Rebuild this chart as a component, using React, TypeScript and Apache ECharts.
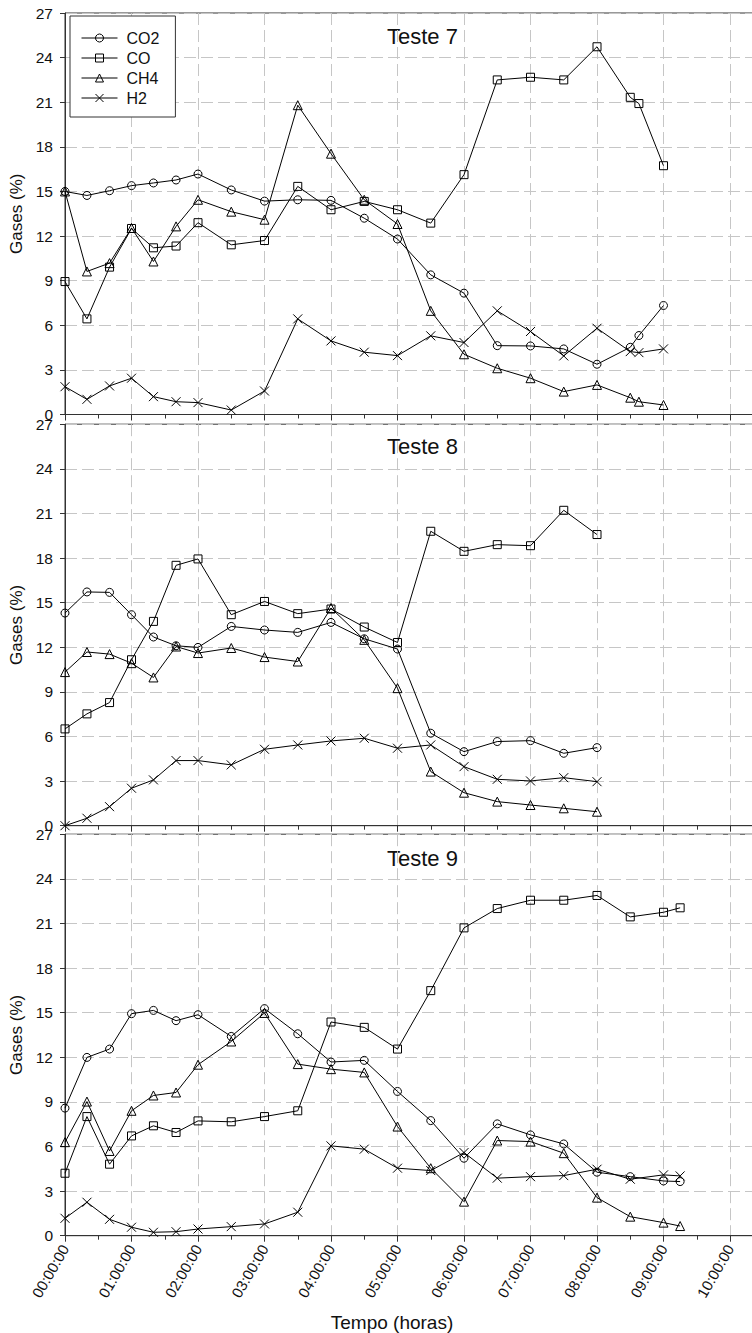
import React, { useEffect, useRef } from "react";
import * as echarts from "echarts";

// ---------- data (hours since start, gas %) ----------
const gasNames = ["CO2", "CO", "CH4", "H2"];
const panelTitles = ["Teste 7", "Teste 8", "Teste 9"];

const t7Times = [0, 0.33, 0.67, 1, 1.33, 1.67, 2, 2.5, 3, 3.5, 4, 4.5, 5, 5.5, 6, 6.5, 7, 7.5, 8, 8.5, 8.63, 9];
const t7CO2 = [15.0, 14.73, 15.05, 15.39, 15.57, 15.77, 16.17, 15.1, 14.35, 14.44, 14.4, 13.2, 11.8, 9.39, 8.16, 4.63, 4.61, 4.41, 3.38, 4.52, 5.31, 7.33];
const t7CO = [8.94, 6.43, 9.91, 12.51, 11.21, 11.33, 12.9, 11.41, 11.7, 15.34, 13.77, 14.33, 13.77, 12.87, 16.13, 22.5, 22.68, 22.5, 24.73, 21.33, 20.91, 16.73];
const t7CH4 = [15.0, 9.62, 10.18, 12.54, 10.29, 12.65, 14.44, 13.64, 13.1, 20.8, 17.54, 14.44, 12.81, 6.97, 4.05, 3.11, 2.44, 1.54, 1.99, 1.13, 0.86, 0.64];
const t7H2 = [1.87, 1.02, 1.92, 2.44, 1.2, 0.86, 0.8, 0.3, 1.58, 6.43, 4.95, 4.19, 3.96, 5.29, 4.84, 6.97, 5.58, 3.94, 5.8, 4.23, 4.16, 4.41];

const t8Times = [0, 0.33, 0.67, 1, 1.33, 1.67, 2, 2.5, 3, 3.5, 4, 4.5, 5, 5.5, 6, 6.5, 7, 7.5, 8];
const t8CO2 = [14.3, 15.72, 15.69, 14.19, 12.69, 12.1, 11.99, 13.4, 13.16, 13.0, 13.67, 12.57, 11.88, 6.22, 4.98, 5.66, 5.72, 4.87, 5.25];
const t8CO = [6.51, 7.52, 8.28, 11.16, 13.74, 17.51, 17.94, 14.19, 15.08, 14.26, 14.57, 13.36, 12.32, 19.8, 18.45, 18.9, 18.83, 21.21, 19.58];
const t8CH4 = [10.33, 11.68, 11.54, 10.93, 9.97, 12.05, 11.61, 11.95, 11.34, 11.04, 14.64, 12.5, 9.25, 3.64, 2.22, 1.62, 1.39, 1.17, 0.94];
const t8H2 = [0, 0.5, 1.28, 2.52, 3.08, 4.38, 4.38, 4.09, 5.14, 5.43, 5.7, 5.88, 5.21, 5.43, 3.97, 3.12, 3.01, 3.23, 2.96];

const t9Times = [0, 0.33, 0.67, 1, 1.33, 1.67, 2, 2.5, 3, 3.5, 4, 4.5, 5, 5.5, 6, 6.5, 7, 7.5, 8, 8.5, 9, 9.25];
const t9CO2 = [8.58, 11.99, 12.55, 14.93, 15.15, 14.46, 14.86, 13.4, 15.27, 13.58, 11.68, 11.79, 9.7, 7.74, 5.21, 7.52, 6.78, 6.17, 4.27, 3.97, 3.68, 3.64];
const t9CO = [4.2, 8.01, 4.81, 6.71, 7.39, 6.94, 7.72, 7.66, 8.01, 8.4, 14.37, 14.01, 12.55, 16.48, 20.7, 22.0, 22.56, 22.56, 22.88, 21.44, 21.75, 22.05];
const t9CH4 = [6.29, 9.02, 5.7, 8.4, 9.43, 9.63, 11.5, 13.06, 14.98, 11.54, 11.2, 10.98, 7.34, 4.54, 2.29, 6.4, 6.33, 5.55, 2.56, 1.28, 0.88, 0.65];
const t9H2 = [1.17, 2.25, 1.1, 0.57, 0.23, 0.27, 0.45, 0.61, 0.79, 1.58, 6.04, 5.82, 4.54, 4.38, 5.59, 3.87, 3.97, 4.04, 4.47, 3.8, 4.09, 4.02];

const panelTimes = [t7Times, t8Times, t9Times];
const panelValues = [
  [t7CO2, t7CO, t7CH4, t7H2],
  [t8CO2, t8CO, t8CH4, t8H2],
  [t9CO2, t9CO, t9CH4, t9H2],
];

const yMin = 0;
const yMax = 27;
const yStep = 3;
const xMin = 0;
const xMax = 11;
const xStep = 1;

// ---------- styling ----------
const FONT = '"Liberation Sans", Arial, Helvetica, sans-serif';
const symbols = ["circle", "rect", "triangle", "path://M0,0L10,10M10,0L0,10"];
const symbolSizes = [8, 8, 9, 9];

const pad2 = (n: number) => (n < 10 ? "0" + n : "" + n);

export default function App() {
  const ref = useRef<HTMLDivElement>(null);

  useEffect(() => {
    if (!ref.current) return;
    const chart = echarts.init(ref.current, undefined, { renderer: "svg" });

    const LEFT = 65;
    const HOUR = 66.5;
    const H = 401.5;
    const tops = [13, 424.2, 834.2];
    const titleY = [36.7, 446.5, 858];
    const axisColor = "#333";
    const gridStyle = { color: "#c6c6c6", type: [12, 5] as any, width: 1 };

    const grid = tops.map((t) => ({
      left: LEFT,
      top: t,
      width: HOUR * (xMax - xMin),
      height: H,
      outerBoundsMode: "none",
      containLabel: false,
      show: true,
      borderColor: axisColor,
      borderWidth: 1,
      backgroundColor: "transparent",
    }));

    const xAxis = tops.map((_, i) => ({
      type: "value",
      gridIndex: i,
      min: xMin,
      max: xMax,
      interval: xStep,
      axisLine: { show: true, onZero: false, lineStyle: { color: axisColor, width: 1 } },
      axisTick: { show: true, length: 6, lineStyle: { color: axisColor } },
      minorTick: { show: true, splitNumber: 2, length: 4, lineStyle: { color: axisColor } },
      splitLine: { show: true, lineStyle: gridStyle },
      axisLabel: {
        show: i === 2,
        rotate: 60,
        fontSize: 15,
        fontFamily: FONT,
        color: "#111",
        margin: 10,
        showMaxLabel: false,
        formatter: (v: number) => (Number.isInteger(v) && v <= 10 ? pad2(v) + ":00:00" : ""),
      },
    }));

    const yAxis = tops.map((_, i) => ({
      type: "value",
      gridIndex: i,
      min: yMin,
      max: yMax,
      interval: yStep,
      name: "Gases (%)",
      nameLocation: "middle",
      nameGap: 35,
      nameTextStyle: { fontSize: 17, fontFamily: FONT, color: "#111" },
      axisLine: { show: true, lineStyle: { color: axisColor, width: 1 } },
      axisTick: { show: true, length: 5, lineStyle: { color: axisColor } },
      splitLine: { show: true, lineStyle: gridStyle },
      axisLabel: { fontSize: 15.5, fontFamily: FONT, color: "#111", margin: 12 },
    }));

    const series: any[] = [];
    panelValues.forEach((vals, p) => {
      vals.forEach((arr, g) => {
        series.push({
          type: "line",
          name: gasNames[g],
          xAxisIndex: p,
          yAxisIndex: p,
          data: panelTimes[p].map((t, k) => [t, arr[k]]),
          symbol: symbols[g],
          symbolSize: symbolSizes[g],
          showSymbol: true,
          showAllSymbol: true,
          lineStyle: { color: "#000", width: 1 },
          itemStyle: { color: "rgba(0,0,0,0)", borderColor: "#000", borderWidth: 1 },
          emphasis: { disabled: true },
        });
      });
    });

    const graphic: any[] = panelTitles.map((t, i) => ({
      type: "text",
      silent: true,
      style: {
        text: t,
        x: 387,
        y: titleY[i],
        font: `22px ${FONT}`,
        fill: "#111",
        align: "left",
        verticalAlign: "middle",
        textAlign: "left",
        textVerticalAlign: "middle",
      },
    }));
    graphic.push({
      type: "text",
      silent: true,
      style: {
        text: "Tempo (horas)",
        x: 392,
        y: 1322,
        font: `19px ${FONT}`,
        fill: "#111",
        align: "center",
        verticalAlign: "middle",
        textAlign: "center",
        textVerticalAlign: "middle",
      },
    });

    chart.setOption({
      animation: false,
      backgroundColor: "#fff",
      textStyle: { fontFamily: FONT },
      grid,
      xAxis,
      yAxis,
      legend: {
        data: gasNames,
        orient: "vertical",
        left: 70,
        top: 16,
        itemWidth: 36,
        itemHeight: 10,
        itemGap: 4,
        padding: [14, 16, 11, 11],
        borderColor: axisColor,
        borderWidth: 1,
        backgroundColor: "#fff",
        selectedMode: false,
        lineStyle: { width: 1, color: "#000" },
        itemStyle: { color: "rgba(0,0,0,0)", borderColor: "#000", borderWidth: 1 },
        textStyle: { fontSize: 16, fontFamily: FONT, color: "#111", padding: [0, 0, 0, 4] },
      },
      series,
      graphic,
    });

    return () => chart.dispose();
  }, []);

  return (
    <div
      ref={ref}
      style={{ position: "absolute", left: 0, top: 0, width: 752, height: 1333 }}
    />
  );
}
